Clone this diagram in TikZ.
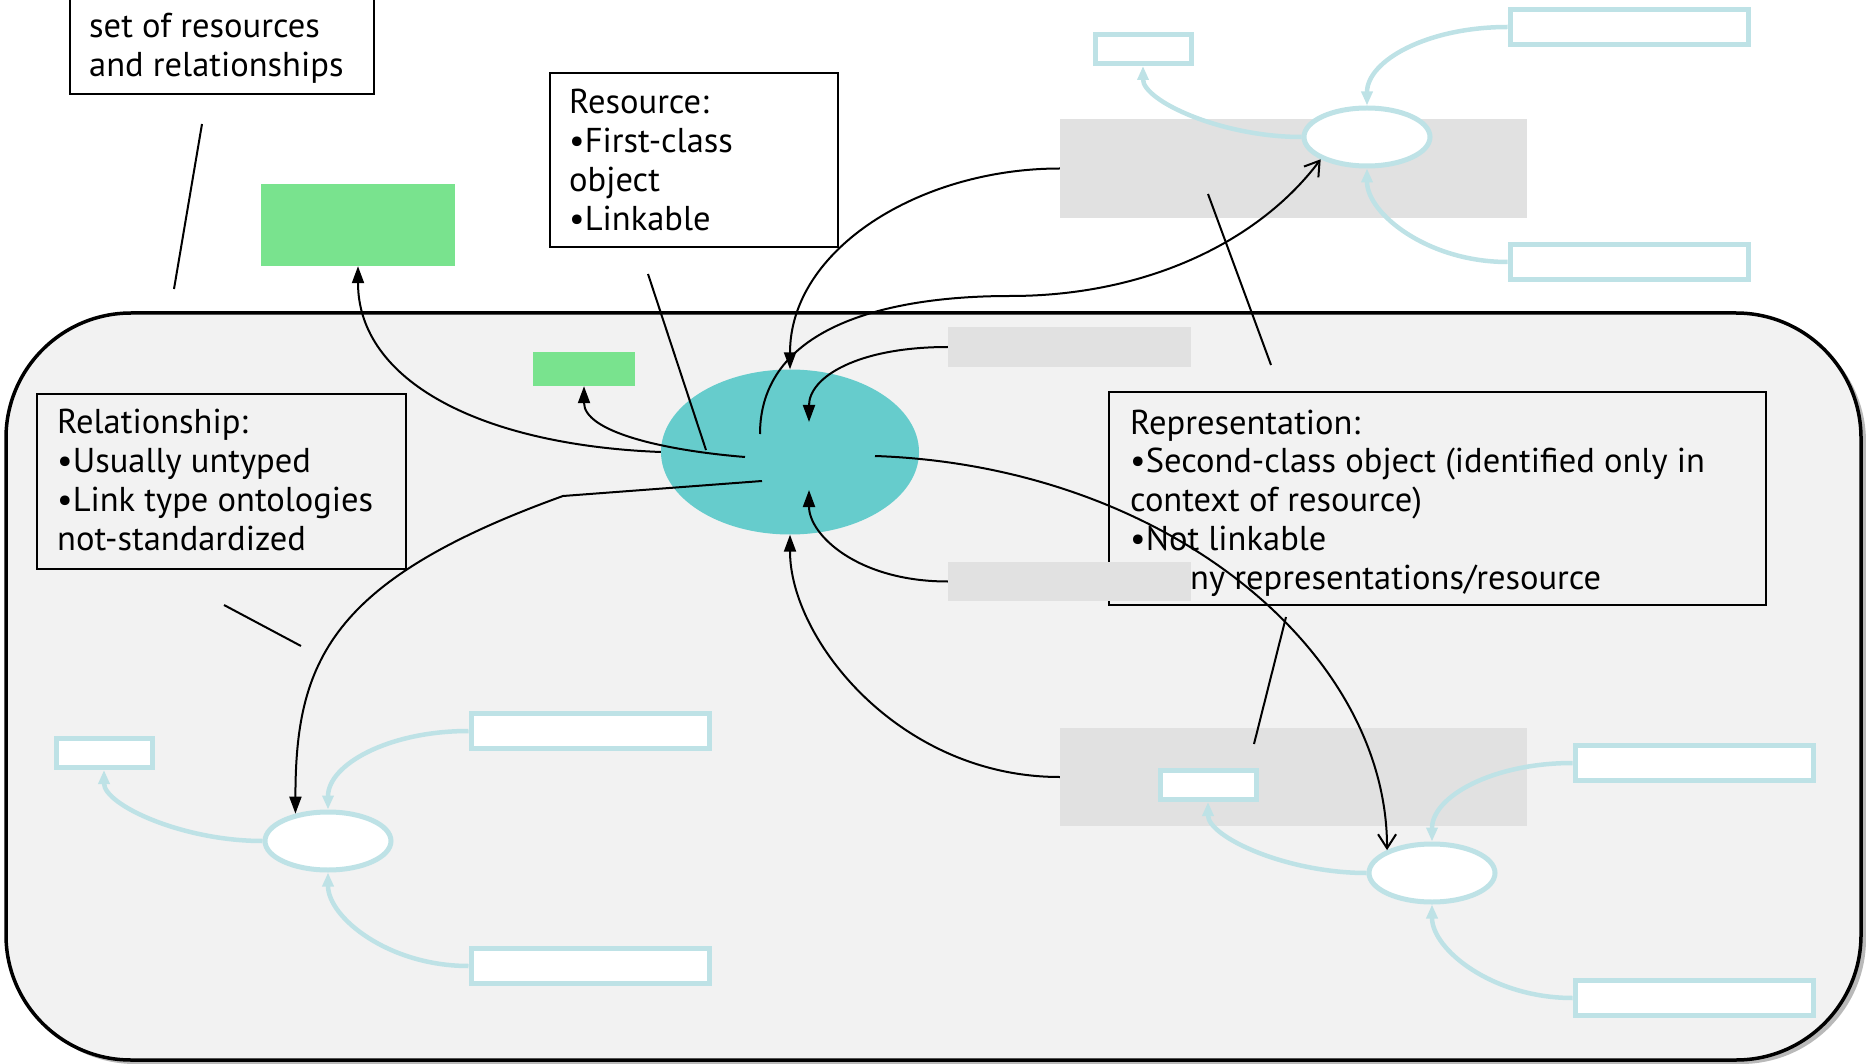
\documentclass[tikz,border=0pt]{standalone}
\usepackage{fontspec}
\setmainfont{PT Sans}
\usepackage{tikz}
\usetikzlibrary{arrows.meta, shapes.geometric}
\tikzstyle{slide} = [x = 1pt, y = -1pt]
\definecolor{paneColor}{RGB}{242,242,242}
\definecolor{blockColor}{RGB}{225,225,225}
\definecolor{resourceColor}{RGB}{102,204,204}
\definecolor{linkColor}{RGB}{190,226,230}
\definecolor{greenColor}{RGB}{121,227,142}
\newcommand{\noteFont}{\fontsize{34.5}{38.7}\selectfont}
\tikzstyle{noteBox} = [draw, line width = 2.5, inner sep = 0]
\tikzstyle{noteText} = [font = \noteFont, align = left, inner sep = 0, anchor = west]
\tikzstyle{blockStyle} = [fill = blockColor, inner sep = 0]
\tikzstyle{greenStyle} = [fill = greenColor, inner sep = 0]
\tikzstyle{linkBox} = [draw = linkColor, line width = 5, fill = white, inner sep = 0]
\tikzstyle{linkEllipse} = [ellipse, draw = linkColor, line width = 5, fill = white, minimum width = 126, minimum height = 58, inner sep = 0]
\tikzstyle{linkArrow} = [draw = linkColor, line width = 4.5, -{Triangle[length = 14pt, width = 11pt]}]
\tikzstyle{pointer} = [line width = 2, -{Triangle[length = 17pt, width = 12pt]}]
\tikzstyle{openPointer} = [line width = 2, -{Straight Barb[length = 14pt, width = 18pt]}]
\tikzstyle{calloutLine} = [line width = 2]
\newcommand{\linkGroup}[3]{
  \node [linkEllipse] (#1Ellipse) at (#2, #3) {};
  \node [linkBox, minimum width = 96, minimum height = 29] (#1Small) at (#2 - 224, #3 - 88) {};
  \node [linkBox, minimum width = 238, minimum height = 35] (#1Top) at (#2 + 262, #3 - 110) {};
  \node [linkBox, minimum width = 238, minimum height = 35] (#1Bottom) at (#2 + 262, #3 + 125) {};
  \draw [linkArrow] (#1Ellipse.west) .. controls +(-80, 0) and +(0, 35) .. (#1Small.south);
  \draw [linkArrow] (#1Top.west) .. controls +(-80, 0) and +(0, -45) .. (#1Ellipse.north);
  \draw [linkArrow] (#1Bottom.west) .. controls +(-80, 0) and +(0, 45) .. (#1Ellipse.south);
}
\begin{document}
\begin{tikzpicture}[slide]
  \useasboundingbox (0, 0) rectangle (1866, 1064);
  % web pane
  \fill [gray!55, rounded corners = 125] (10, 317) rectangle (1866, 1064);
  \filldraw [fill = paneColor, line width = 3.5, rounded corners = 125] (6, 313) rectangle (1861, 1060);

  % notes outside the pane
  \node [noteBox, minimum width = 304, minimum height = 138] (setBox) at (222, 25) {};
  \node [noteText] (setText) at (89, 48) {set of resources\\and relationships};
  \node [greenStyle, minimum width = 194, minimum height = 82] (bigGreen) at (358, 225) {};
  \node [noteBox, minimum width = 288, minimum height = 174] (resourceBox) at (694, 160) {};
  \node [noteText] (resourceText) at (569, 160) {Resource:\\•First-class\\object\\•Linkable};

  % the resource
  \node [greenStyle, minimum width = 102, minimum height = 34] (smallGreen) at (584, 369) {};
  \node [ellipse, fill = resourceColor, minimum width = 258, minimum height = 165, inner sep = 0] (resourceEllipse) at (790, 452) {};
  \node [noteBox, minimum width = 369, minimum height = 175] (relationBox) at (221.5, 481.5) {};
  \node [noteText] (relationText) at (57, 480) {Relationship:\\•Usually untyped\\•Link type ontologies\\not-standardized};

  % representations
  \node [blockStyle, minimum width = 467, minimum height = 99] (topBlock) at (1293.5, 168.5) {};
  \node [blockStyle, minimum width = 243, minimum height = 40] (upperBlock) at (1069.5, 347) {};
  \node [blockStyle, minimum width = 467, minimum height = 98] (bottomBlock) at (1293.5, 777) {};
  \node [noteBox, minimum width = 657, minimum height = 213] (reprBox) at (1437.5, 498.5) {};
  \node [noteText] (reprText) at (1130, 503) {Representation:\\•Second-class object (identified only in\\context of resource)\\•Not linkable\\•Many representations/resource};
  \node [blockStyle, minimum width = 243, minimum height = 39] (lowerBlock) at (1069.5, 581.5) {};

  \linkGroup{topGroup}{1367}{137}
  \linkGroup{leftGroup}{328}{841}
  \linkGroup{rightGroup}{1432}{873}

  % links
  \coordinate (resLeftIn) at (745, 457);
  \coordinate (resUpOut) at (760, 434);
  \coordinate (upBend) at (1010, 296);
  \coordinate (resUpperIn) at (809, 422);
  \coordinate (resLowerIn) at (809, 490);
  \coordinate (resDownOut) at (762, 481);
  \coordinate (relBend) at (563, 496);
  \coordinate (resRightOut) at (875, 456);
  \draw [pointer] (resourceEllipse.west) .. controls +(-180, -7) and +(0, 115) .. (bigGreen.south);
  \draw [pointer] (resLeftIn) .. controls +(-85, -7) and +(0, 45) .. (smallGreen.south);
  \draw [pointer] (topBlock.west) .. controls +(-140, 0) and +(0, -120) .. (resourceEllipse.north);
  \draw [openPointer] (resUpOut) .. controls +(0, -104) and +(-130, 0) .. (upBend) .. controls +(140, 0) and +(-60, 80) .. (topGroupEllipse.south west);
  \draw [pointer] (upperBlock.west) .. controls +(-90, 0) and +(0, -45) .. (resUpperIn);
  \draw [pointer] (lowerBlock.west) .. controls +(-90, 0) and +(0, 45) .. (resLowerIn);
  \draw [pointer] (bottomBlock.west) .. controls +(-160, 0) and +(0, 105) .. (resourceEllipse.south);
  \draw [pointer] (resDownOut) -- (relBend) .. controls +(-233, 84) and +(0, -152) .. (leftGroupEllipse.140);
  \draw [openPointer] (resRightOut) .. controls +(290, 10) and +(0, -200) .. (rightGroupEllipse.153);

  % callouts
  \coordinate (setFrom) at (202, 124);
  \coordinate (setTo) at (174, 289);
  \coordinate (resourceFrom) at (648, 274);
  \coordinate (resourceTo) at (706, 450);
  \coordinate (relationFrom) at (224, 605);
  \coordinate (relationTo) at (301, 646);
  \coordinate (reprUpFrom) at (1208, 194);
  \coordinate (reprUpTo) at (1271, 365);
  \coordinate (reprDownFrom) at (1286, 617);
  \coordinate (reprDownTo) at (1254, 744);
  \draw [calloutLine] (setFrom) -- (setTo);
  \draw [calloutLine] (resourceFrom) -- (resourceTo);
  \draw [calloutLine] (relationFrom) -- (relationTo);
  \draw [calloutLine] (reprUpFrom) -- (reprUpTo);
  \draw [calloutLine] (reprDownFrom) -- (reprDownTo);
\end{tikzpicture}
\end{document}
